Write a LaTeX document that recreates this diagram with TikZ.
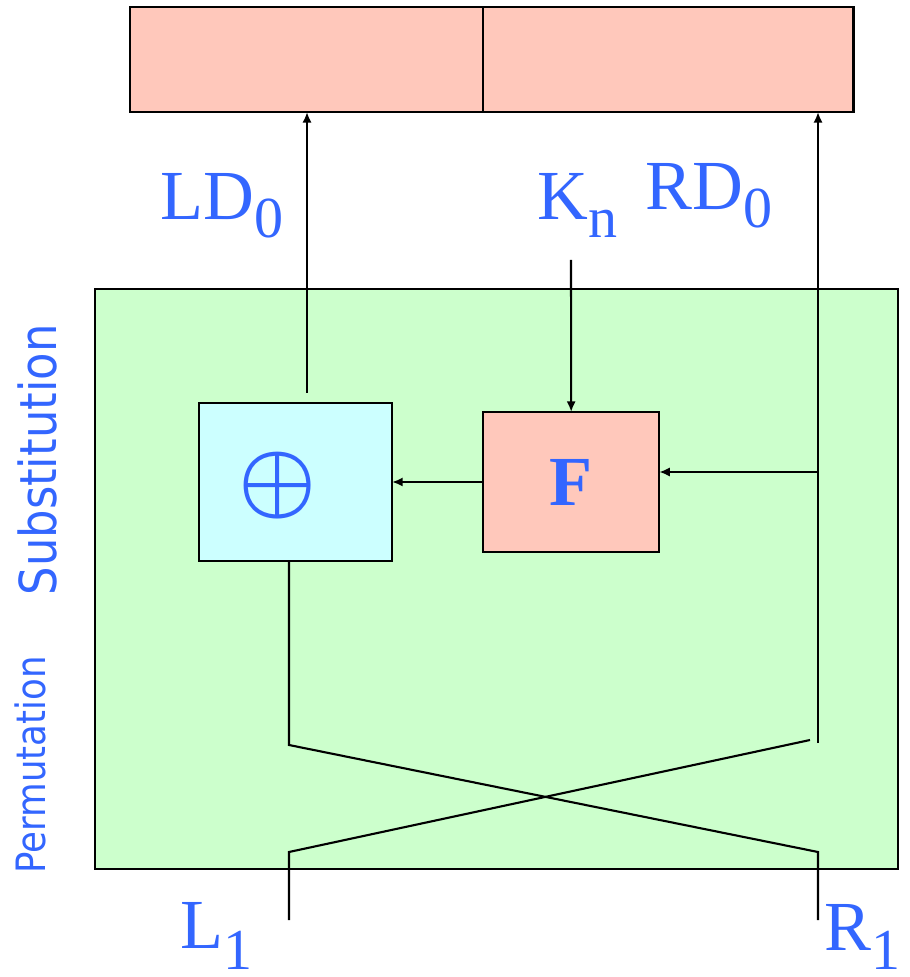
\documentclass[tikz,border=0pt]{standalone}
\usepackage{fontspec}
\usepackage{bm}
\setmainfont{Liberation Serif}
\newfontfamily\sidefont{DejaVu Sans}
\usetikzlibrary{arrows.meta, positioning}

\definecolor{labelblue}{RGB}{51,102,255}
\definecolor{salmon}{RGB}{255,200,187}
\definecolor{mint}{RGB}{204,255,204}
\definecolor{paleaqua}{RGB}{204,255,255}

% letter with a lowered index
\newcommand{\sublbl}[3][5pt]{#2\raisebox{-#1}{\fontsize{16.5}{16.5}\selectfont #3}}

\begin{document}
\begin{tikzpicture}[x=0.01cm, y=-0.01cm,
    box/.style={rectangle, draw, line width=0.65pt, inner sep=0pt, outer sep=0pt},
    half/.style={box, line width=0.75pt, fill=salmon, minimum height=1.05cm},
    arrow/.style={-{Latex[length=3pt, width=2.6pt]}, line width=0.6pt},
    wire/.style={line width=0.6pt},
    label/.style={text=labelblue, font=\fontsize{20}{24}\selectfont, inner sep=0pt},
    side/.style={text=labelblue, rotate=90, inner sep=0pt}
]
    \useasboundingbox (0,0) rectangle (909,977);

    % round body
    \node[box, line width=0.6pt, fill=mint, minimum width=8.03cm, minimum height=5.80cm] (round) at (496.5,579) {};
    \node[box, fill=paleaqua, minimum width=1.93cm, minimum height=1.58cm] (xor) at (295.5,482) {};
    \node[label, font=\fontsize{24}{24}\selectfont] (xorsym) at ([xshift=-0.18cm, yshift=-0.04cm]xor.center) {$\bm{\oplus}$};
    \node[box, fill=salmon, minimum width=1.76cm, minimum height=1.40cm, right=0.91cm of xor, text=labelblue, font=\fontsize{20}{24}\selectfont\bfseries] (f) {F};

    % output register
    \node[half, minimum width=3.53cm] (ld) at (306.5,59.5) {};
    \node[half, minimum width=3.70cm, right=0pt of ld] (rd) {};

    \node[label, anchor=base west] (ldlbl) at (160,220) {\sublbl{LD}{0}};
    \node[label, anchor=base west] (knlbl) at (537,220) {\sublbl{K}{n}};
    \node[label, anchor=base west] (rdlbl) at (645,210) {\sublbl{RD}{0}};
    \node[label, anchor=base west] (l1lbl) at (180,948) {\sublbl[6pt]{L}{1}};
    \node[label, anchor=base west] (r1lbl) at (824,950) {\sublbl[5.5pt]{R}{1}};

    \node[side, font=\sidefont\fontsize{14.5}{16}\selectfont] (subst) at (37,460) {\scalebox{0.88}[1]{Substitution}};
    \node[side, font=\sidefont\fontsize{11.5}{13}\selectfont] (perm) at (30,765) {\scalebox{0.88}[1]{Permutation}};

    \coordinate (xout) at (307,393);
    \coordinate (kin) at (571,260);
    \coordinate (rtap) at (818,472);
    \coordinate (ltop) at (289,745);
    \coordinate (rtop) at (818,743);
    \coordinate (rdiag) at (810,740);
    \coordinate (lbot) at (289,852);
    \coordinate (rbot) at (818,852);
    \coordinate (lin) at (289,920);
    \coordinate (rin) at (818,920);

    \draw[arrow] (xout) -- (xout |- ld.south);
    \draw[arrow] (kin) -- (f.north);
    \draw[arrow] (rtop) -- (rtop |- rd.south);
    \draw[arrow] (rtap) -- (rtap -| f.east);
    \draw[arrow] (f.west) -- (xor.east);

    % swap of the halves
    \draw[wire] (xor.south -| ltop) -- (ltop) -- (rbot) -- (rin);
    \draw[wire] (rdiag) -- (lbot) -- (lin);
\end{tikzpicture}
\end{document}
